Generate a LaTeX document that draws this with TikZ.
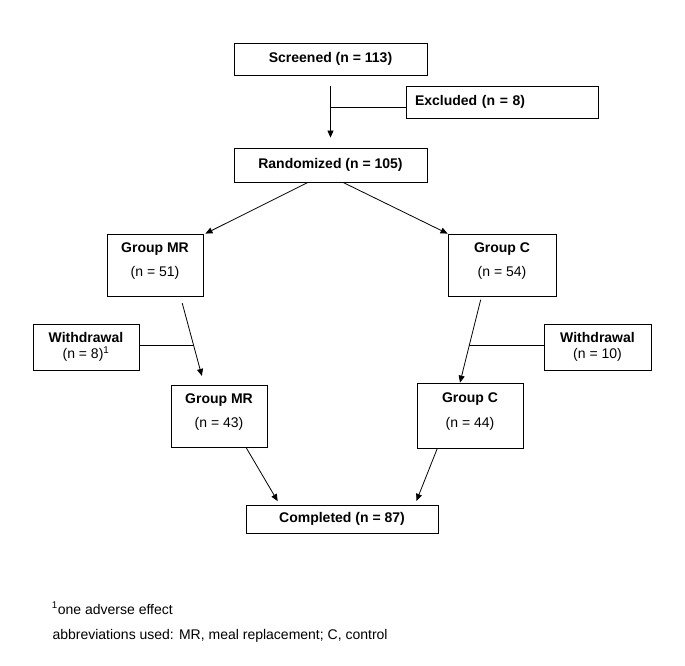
\documentclass[tikz,border=0pt]{standalone}
\usepackage{fontspec}
\setmainfont{Liberation Sans}
\usetikzlibrary{arrows.meta}
\begin{document}
\begin{tikzpicture}[x=1pt,y=-1pt,
  font=\fontsize{14pt}{16pt}\selectfont,
  box/.style={draw,line width=0.8pt,inner sep=0pt,align=center},
  grp/.style={box,minimum width=96pt,minimum height=62pt,text height=35pt,text depth=11.6pt},
  arr/.style={line width=0.8pt,-{Triangle[length=7pt,width=6pt]}},
  link/.style={line width=0.8pt}]
\useasboundingbox (0,0) rectangle (685,666);
\node[box,minimum width=193pt,minimum height=32pt] (scr) at (330.5,59) {\textbf{Screened (n = 113)}};
\node[box,minimum width=192pt,minimum height=32pt,text width=174pt,inner xsep=9pt,align=left] (exc) at (502,102) {\textbf{Excluded (n = 8)}};
\node[box,minimum width=193pt,minimum height=34pt] (rnd) at (330.5,165) {\textbf{Randomized (n = 105)}};
\node[grp] (mr1) at (155,265) {\textbf{Group MR}\\[8.5pt](n = 51)};
\node[grp,minimum width=108pt] (c1) at (502,265) {\textbf{Group C}\\[8.5pt](n = 54)};
\node[box,minimum width=106pt,minimum height=46pt] (wd1) at (86,347) {\textbf{Withdrawal}\\(n = 8)\textsuperscript{1}};
\node[box,minimum width=107pt,minimum height=46pt] (wd2) at (597.5,347) {\textbf{Withdrawal}\\(n = 10)};
\node[grp] (mr2) at (219,416) {\textbf{Group MR}\\[8.5pt](n = 43)};
\node[grp,minimum width=106pt,minimum height=65pt] (c2) at (470,415.5) {\textbf{Group C}\\[8.5pt](n = 44)};
\node[box,minimum width=192pt,minimum height=28pt] (cmp) at (342,519) {\textbf{Completed (n = 87)}};
% screening
\draw[arr,shorten <=11pt,shorten >=10pt] (scr.south) -- coordinate[pos=0.438] (j0) (rnd.north);
\draw[link] (j0) -- (j0 -| exc.west);
% randomisation
\draw[arr] ([xshift=-22.5pt]rnd.south) -- ([xshift=2pt]mr1.north east);
\draw[arr] ([xshift=12.5pt]rnd.south) -- (c1.north west);
% withdrawals
\draw[arr,shorten <=7pt,shorten >=9pt] ([xshift=25.4pt]mr1.south) -- coordinate[pos=0.557] (j1) ([xshift=-14.8pt]mr2.north);
\draw[link] (wd1.east |- j1) -- (j1);
\draw[arr,shorten <=3.3pt] ([xshift=-20.5pt]c1.south) -- coordinate[pos=0.563] (j2) ([xshift=-10pt]c2.north);
\draw[link] (j2) -- (j2 -| wd2.west);
% completed
\draw[arr,shorten >=4pt] ([xshift=27pt]mr2.south) -- ([xshift=-62.3pt]cmp.north);
\draw[arr,shorten >=4pt] ([xshift=-32.7pt]c2.south) -- ([xshift=73pt]cmp.north);
% notes
\node[anchor=base west,inner sep=0pt] (fn1) at (51.7,614) {\textsuperscript{1}one adverse effect};
\node[anchor=base west,inner sep=0pt] (fn2) at (52.3,639) {abbreviations used: MR, meal replacement; C, control};
\end{tikzpicture}
\end{document}
